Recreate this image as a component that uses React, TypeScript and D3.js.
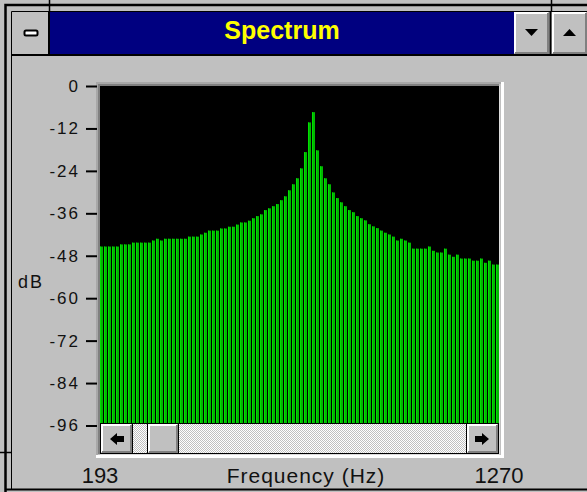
import React, { useEffect, useRef } from "react";
import * as d3 from "d3";

// spectrum levels in dB, one per bin
const levels: number[] = [
  -45.4, -45.4, -45.4, -45.4, -45.4, -44.8, -44.8, -44.8, -44.3, -44.3,
  -44.3, -44.3, -44.3, -43.7, -43.2, -43.7, -43.2, -43.2, -43.2, -43.2,
  -43.2, -43.2, -42.6, -42.6, -42.6, -42.0, -41.5, -40.9, -40.9, -40.9,
  -40.3, -40.3, -39.8, -39.8, -39.2, -38.6, -38.6, -38.1, -37.4, -36.8,
  -36.3, -35.1, -34.6, -34.0, -33.4, -32.3, -31.2, -29.5, -27.8, -26.1,
  -23.3, -18.7, -10.3, -7.4, -18.2, -22.7, -26.1, -27.8, -30.1, -31.7,
  -32.9, -34.0, -35.1, -35.7, -36.8, -37.4, -38.0, -39.1, -39.7, -40.2,
  -40.9, -41.5, -42.0, -42.6, -43.7, -43.2, -43.7, -44.3, -46.0, -46.0,
  -46.0, -46.0, -45.4, -46.6, -47.1, -47.1, -46.0, -47.7, -48.3, -47.7,
  -48.8, -48.8, -48.8, -49.4, -49.4, -48.8, -50.0, -49.4, -50.5, -50.5,
];
const dbTicks: number[] = [0, -12, -24, -36, -48, -60, -72, -84, -96];
const freqEnds: number[] = [193, 1270];

const W = 587;
const H = 492;
const FONT = "Arial, 'Liberation Sans', sans-serif";

type Sel = d3.Selection<SVGGElement, unknown, null, undefined>;

// win 3.1 style raised button
function raised(g: Sel, x: number, y: number, w: number, h: number) {
  g.append("rect").attr("x", x).attr("y", y).attr("width", w).attr("height", h).attr("fill", "#c0c0c0");
  g.append("path")
    .attr("d", `M${x + 1},${y + h - 1}V${y + 1}H${x + w - 1}`)
    .attr("stroke", "#fff").attr("stroke-width", 2).attr("fill", "none");
  g.append("path")
    .attr("d", `M${x + 1},${y + h - 1}H${x + w - 1}V${y + 1}`)
    .attr("stroke", "#808080").attr("stroke-width", 2).attr("fill", "none");
}

export default function App() {
  const ref = useRef<SVGSVGElement>(null);

  useEffect(() => {
    const svg = d3.select(ref.current);
    svg.selectAll("*").remove();

    const defs = svg.append("defs");
    const pat = defs.append("pattern").attr("id", "dither")
      .attr("width", 2).attr("height", 2).attr("patternUnits", "userSpaceOnUse");
    pat.append("rect").attr("width", 2).attr("height", 2).attr("fill", "#fff");
    pat.append("rect").attr("x", 0).attr("y", 0).attr("width", 1).attr("height", 1).attr("fill", "#c0c0c0");
    pat.append("rect").attr("x", 1).attr("y", 1).attr("width", 1).attr("height", 1).attr("fill", "#c0c0c0");

    const root = svg.append("g") as unknown as Sel;

    // window body + frame
    root.append("rect").attr("width", W).attr("height", H).attr("fill", "#c0c0c0");
    root.append("path").attr("d", `M5.5,${H}V5H${W}`)
      .attr("fill", "none").attr("stroke", "#000").attr("stroke-width", 2.5);
    root.append("path").attr("d", `M11.5,489V11.5H${W}`)
      .attr("fill", "none").attr("stroke", "#000").attr("stroke-width", 1);
    root.append("path").attr("d", `M5,489.5H${W}`).attr("stroke", "#000").attr("stroke-width", 2);
    root.append("path").attr("d", "M49.5,0V12M551.5,0V12M0,452.5H11")
      .attr("stroke", "#000").attr("stroke-width", 1.5);

    // title bar
    root.append("rect").attr("x", 50).attr("y", 12).attr("width", 464).attr("height", 42).attr("fill", "#000080");
    root.append("rect").attr("x", 11).attr("y", 54).attr("width", W).attr("height", 2).attr("fill", "#000");
    root.append("path").attr("d", "M49,12V54M550.5,12V54").attr("stroke", "#000").attr("stroke-width", 2);
    root.append("text").attr("x", 282).attr("y", 39).attr("text-anchor", "middle")
      .attr("font-family", FONT).attr("font-weight", "bold").attr("font-size", 25)
      .attr("fill", "#ffff00").text("Spectrum");

    // system menu box
    root.append("rect").attr("x", 12).attr("y", 12).attr("width", 36).attr("height", 42).attr("fill", "#c0c0c0");
    root.append("rect").attr("x", 24.5).attr("y", 30.5).attr("width", 13).attr("height", 5).attr("rx", 1.5)
      .attr("fill", "#fff").attr("stroke", "#000").attr("stroke-width", 2);

    // min / max buttons
    raised(root, 514, 12, 35, 42);
    raised(root, 552, 12, 35, 42);
    root.append("path").attr("d", "M525,29H538L531.5,36Z").attr("fill", "#000");
    root.append("path").attr("d", "M563,36H576L569.5,29Z").attr("fill", "#000");

    // plot area
    const left = 100, right = 499, top = 86, bottom = 454;
    const x = d3.scaleBand<number>().domain(d3.range(levels.length))
      .range([left, right]).paddingInner(0.25).paddingOuter(0);
    const y = d3.scaleLinear().domain([0, -96]).range([top, 425.5]);
    const xf = d3.scaleLinear().domain([freqEnds[0], freqEnds[1]]).range([left, right]);

    // sunken border
    root.append("path").attr("d", `M${left - 3},${bottom + 2}V${top - 3}H${right + 2}`)
      .attr("stroke", "#a8a8a8").attr("stroke-width", 2).attr("fill", "none");
    root.append("path").attr("d", `M${left - 1},${bottom}V${top - 1}H${right}`)
      .attr("stroke", "#808080").attr("stroke-width", 2).attr("fill", "none");
    root.append("path").attr("d", `M${left - 4},${bottom + 2.5}H${right + 3.5}V${top - 4}`)
      .attr("stroke", "#fff").attr("stroke-width", 3).attr("fill", "none");
    root.append("path").attr("d", `M${left},${bottom + 0.5}H${right + 0.5}V${top}`)
      .attr("stroke", "#dcdcdc").attr("stroke-width", 1).attr("fill", "none");

    root.append("rect").attr("x", left).attr("y", top).attr("width", right - left).attr("height", bottom - top)
      .attr("fill", "#000");

    root.append("g").selectAll("rect").data(levels).enter().append("rect")
      .attr("x", (_d, i) => x(i) as number)
      .attr("y", d => y(d))
      .attr("width", x.bandwidth())
      .attr("height", d => y(-96) - y(d))
      .attr("fill", "#00b800");
    root.append("g").selectAll("rect").data(levels).enter().append("rect")
      .attr("x", (_d, i) => x(i) as number)
      .attr("y", d => y(d))
      .attr("width", 1)
      .attr("height", d => y(-96) - y(d))
      .attr("fill", "#00e000");

    // y axis
    const ya = root.append("g").attr("transform", `translate(${left - 3},0)`)
      .call(d3.axisLeft(y).tickValues(dbTicks).tickSize(11).tickPadding(6).tickFormat(d3.format("d")));
    ya.select(".domain").remove();
    ya.selectAll("line").attr("stroke", "#000").attr("stroke-width", 2);
    ya.selectAll("text").attr("font-family", FONT).attr("font-size", 17)
      .attr("letter-spacing", 2).attr("fill", "#111").text(d => d3.format("d")(d as number).replace("−", "-"));

    root.append("text").attr("x", 18).attr("y", 288).attr("font-family", FONT).attr("font-size", 18)
      .attr("letter-spacing", 2).attr("fill", "#111").text("dB");

    // scrollbar
    const sb = { y0: 423, y1: 454 };
    root.append("rect").attr("x", left).attr("y", sb.y0).attr("width", right - left).attr("height", sb.y1 - sb.y0)
      .attr("fill", "url(#dither)");
    root.append("rect").attr("x", left + 0.5).attr("y", sb.y0 + 0.5).attr("width", right - left - 1)
      .attr("height", sb.y1 - sb.y0 - 1).attr("fill", "none").attr("stroke", "#000");
    raised(root, left + 1, sb.y0 + 1, 31, sb.y1 - sb.y0 - 2);
    raised(root, right - 32, sb.y0 + 1, 31, sb.y1 - sb.y0 - 2);
    raised(root, 148, sb.y0 + 1, 30, sb.y1 - sb.y0 - 2);
    root.append("path").attr("d", `M${left + 32.5},${sb.y0}V${sb.y1}M${right - 32.5},${sb.y0}V${sb.y1}M147.5,${sb.y0}V${sb.y1}M178.5,${sb.y0}V${sb.y1}`)
      .attr("stroke", "#000");
    root.append("path").attr("d", "M110,439L117,433V436H124V442H117V445Z").attr("fill", "#000");
    root.append("path").attr("d", "M489,439L482,433V436H475V442H482V445Z").attr("fill", "#000");

    // x labels
    root.append("g").selectAll("text").data(freqEnds).enter().append("text")
      .attr("x", d => xf(d)).attr("y", 483).attr("text-anchor", "middle")
      .attr("font-family", FONT).attr("font-size", 22).attr("fill", "#111").text(d => d);
    root.append("text").attr("x", 306).attr("y", 483).attr("text-anchor", "middle")
      .attr("font-family", FONT).attr("font-size", 21).attr("letter-spacing", 1)
      .attr("fill", "#111").text("Frequency (Hz)");
  }, []);

  return (
    <div style={{ position: "absolute", left: 0, top: 0 }}>
      <svg ref={ref} width={W} height={H} style={{ display: "block" }} />
    </div>
  );
}
